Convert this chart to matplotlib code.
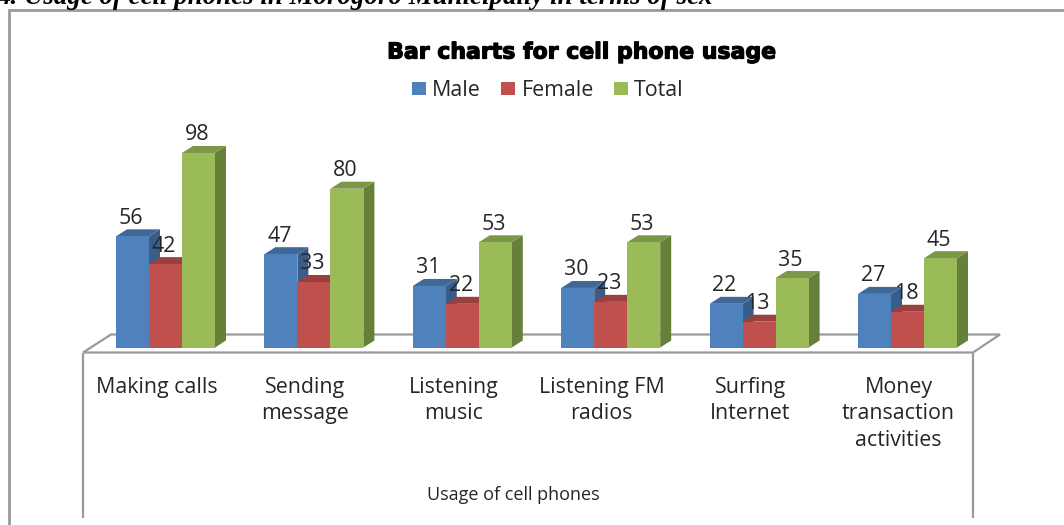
import matplotlib
matplotlib.use("Agg")
import matplotlib.pyplot as plt
import matplotlib.patheffects as pe
from matplotlib.patches import Polygon, Rectangle

categories = ["Making calls", "Sending\nmessage", "Listening\nmusic",
              "Listening FM\nradios", "Surfing\nInternet",
              "Money\ntransaction\nactivities"]
male = [56, 47, 31, 30, 22, 27]
female = [42, 33, 22, 23, 13, 18]
total = [98, 80, 53, 53, 35, 45]
series_names = ["Male", "Female", "Total"]
title = "Bar charts for cell phone usage"
xlabel = "Usage of cell phones"
caption = "4. Usage of cell phones in Morogoro Municipally in terms of sex"

W, H = 1064, 525
X0, XS = 165.5, 148.4      # pixel of group 0 centre, pixels per group
Y0, YS = 347.5, 1.985      # pixel of value 0, pixels per unit

def px(x):
    return (x - X0) / XS

def py(y):
    return (Y0 - y) / YS

fig = plt.figure(figsize=(W / 100, H / 100), dpi=100)
ax = fig.add_axes([0, 0, 1, 1])
ax.set_xlim(px(0), px(W))
ax.set_ylim(py(H), py(0))
ax.axis("off")

FONT = "Open Sans"
GREY = "#9a9a9a"
TXT = "#262626"

def line(xs, ys, lw=1.6):
    ax.plot([px(v) for v in xs], [py(v) for v in ys], color=GREY, lw=lw,
            solid_capstyle="butt", solid_joinstyle="miter", zorder=1)

line([9, 9, 1064], [525, 10, 10], 2.0)
line([83, 111, 1000, 973, 83], [352.5, 334.5, 334.5, 352.5, 352.5], 1.6)
line([83, 83], [352.5, 518], 1.6)
line([973, 973], [352.5, 518], 1.6)

BW = 33 / XS
DX = 11 / XS
DY = 7 / YS
front = ["#4f81bd", "#c0504d", "#9bbb59"]
side = ["#385d8a", "#8c3836", "#66803a"]
top = ["#3f6797", "#9a403e", "#7c964a"]
all_series = [male, female, total]

for s, values in enumerate(all_series):
    for i, v in enumerate(values):
        x0 = i + (s - 1.5) * BW
        x1 = x0 + BW
        z = 2 + i * 3 + s
        ax.add_patch(Polygon([(x1, 0), (x1 + DX, DY), (x1 + DX, v + DY), (x1, v)],
                             fc=side[s], ec="none", zorder=z))
        ax.add_patch(Polygon([(x0, v), (x0 + DX, v + DY), (x1 + DX, v + DY), (x1, v)],
                             fc=top[s], ec="none", zorder=z))
        ax.add_patch(Rectangle((x0, 0), BW, v, fc=front[s], ec="none", zorder=z + 0.1))

for s, values in enumerate(all_series):
    for i, v in enumerate(values):
        xc = i + (s - 1) * BW - 1.5 / XS
        ax.text(xc, v + 12.5 / YS, str(v), ha="center", va="baseline", fontsize=15.4,
                family=FONT, color=TXT, zorder=60)

for i, c in enumerate(categories):
    ax.text(i - 9 / XS, py(377), c, ha="center", va="top", fontsize=15.4, family=FONT,
            color=TXT, linespacing=1.33, zorder=60)

ax.text(px(513), py(495.5), xlabel, ha="center", va="center", fontsize=13, family=FONT, color=TXT)
ax.text(px(582), py(52.5), title, ha="center", va="center", fontsize=15.85, family="DejaVu Sans",
        weight="bold", color="black",
        path_effects=[pe.withStroke(linewidth=0.9, foreground="black")])
ax.text(px(-3), py(3.5), caption, ha="left", va="baseline", fontsize=19.35,
        family="Liberation Serif", style="italic", weight="bold", color="black")

leg_x = [412, 501, 614]
leg_tx = [432, 522, 634]
for name, c, lx, tx in zip(series_names, front, leg_x, leg_tx):
    ax.add_patch(Rectangle((px(lx), py(95)), 14 / XS, 13 / YS, fc=c, ec="none"))
    ax.text(px(tx), py(91), name, ha="left", va="center", fontsize=15.4, family=FONT, color=TXT)

fig.savefig("out.png", dpi=100)
